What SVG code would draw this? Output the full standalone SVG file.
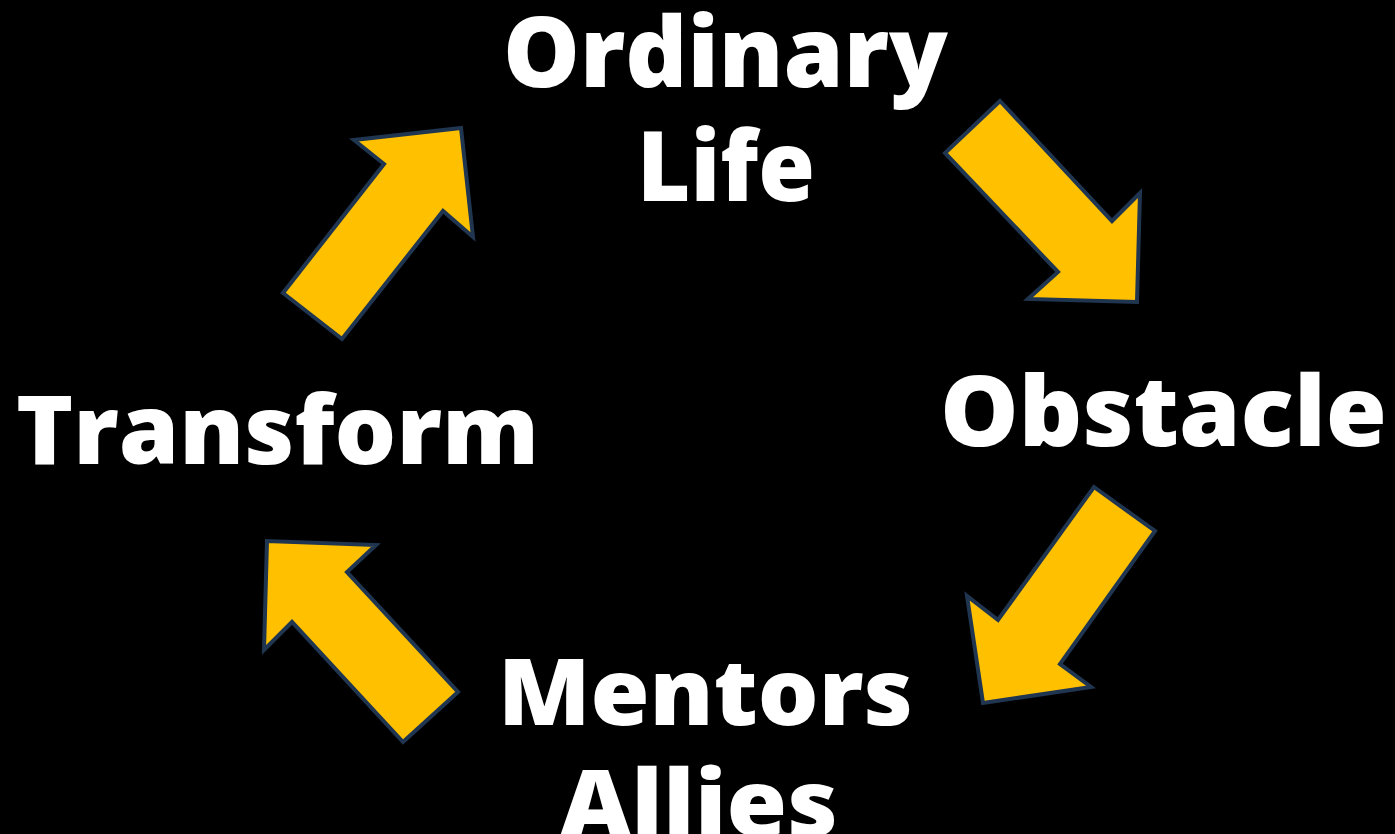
<svg xmlns="http://www.w3.org/2000/svg" width="1395" height="834" viewBox="0 0 1395 834">
<style>
.lbl{font-family:"Open Sans","Liberation Sans",sans-serif;font-weight:800;fill:#ffffff;text-anchor:middle}
.arr{fill:#FFC000;stroke:#1F3550;stroke-width:4;stroke-linejoin:miter}
</style>
<rect width="1395" height="834" fill="#000000"/>
<g id="connectors">
<polygon class="arr" points="1000,101 945,153 1058,272 1028,299 1137,302 1140,193 1112,221"/>
<polygon class="arr" points="1094,487 1155,531 1060,664 1091,687 983,703 967,596 998,620"/>
<polygon class="arr" points="458,692 403,742 292,622 264,650 267,541 376,545 347,572"/>
<polygon class="arr" points="342,339 283,293 384,164 354,140 461,128 473,237 443,211"/>
</g>
<g id="node-ordinary-life">
<text class="lbl" x="725.5" y="87" font-size="97" textLength="445" lengthAdjust="spacingAndGlyphs">Ordinary</text>
<text class="lbl" x="726" y="201" font-size="97" textLength="178" lengthAdjust="spacingAndGlyphs">Life</text>
</g>
<g id="node-obstacle">
<text class="lbl" x="1163.5" y="446" font-size="97" textLength="447" lengthAdjust="spacingAndGlyphs">Obstacle</text>
</g>
<g id="node-mentors-allies">
<text class="lbl" x="705.5" y="725" font-size="92" textLength="415" lengthAdjust="spacingAndGlyphs">Mentors</text>
<text class="lbl" x="699" y="836" font-size="92" textLength="278" lengthAdjust="spacingAndGlyphs">Allies</text>
</g>
<g id="node-transform">
<text class="lbl" x="277.5" y="464" font-size="95" textLength="523" lengthAdjust="spacingAndGlyphs">Transform</text>
</g>
</svg>
